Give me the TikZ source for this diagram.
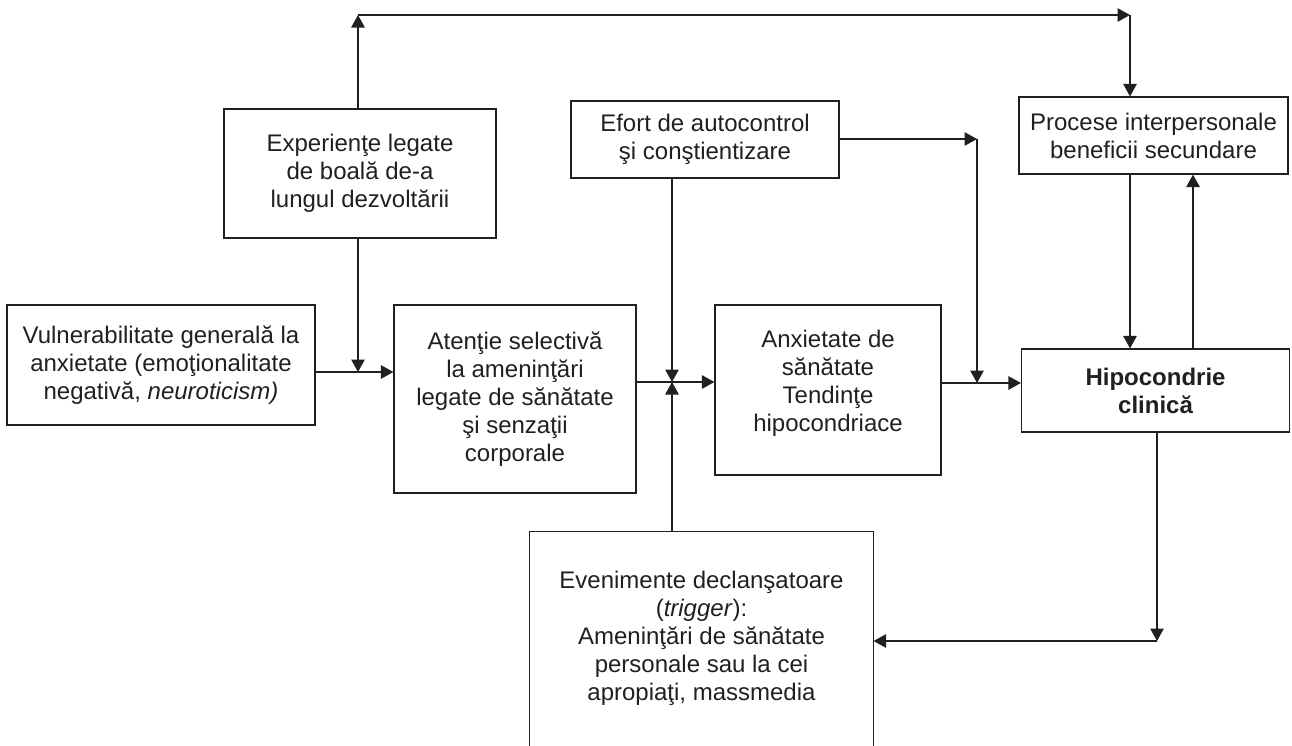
\documentclass[tikz,border=0pt]{standalone}
\usepackage{fontspec}
\setmainfont{Liberation Sans}
\usetikzlibrary{arrows.meta}
\definecolor{ink}{HTML}{231F20}
\begin{document}
\begin{tikzpicture}[x=1pt,y=-1pt,
  box/.style={draw=ink, line width=1.2pt, align=center, inner sep=0pt, text=ink,
    font=\fontsize{24}{28}\selectfont},
  conn/.style={draw=ink, line width=1.2pt},
  tip/.style={-{Triangle[length=12.5pt,width=13.5pt]}}]
\useasboundingbox (0,0) rectangle (1292,745);
\fill[white] (0,0) rectangle (1292,745);

\node[box, minimum width=308, minimum height=120] (vuln) at (161,365)
  {Vulnerabilitate generală la\\anxietate (emoţionalitate\\negativă, \textit{neuroticism)}};
\node[box, minimum width=272, minimum height=129] (exp) at (360,173.5)
  {Experienţe legate\\de boală de-a\\lungul dezvoltării};
\node[box, minimum width=242, minimum height=188] (aten) at (515,399)
  {Atenţie selectivă\\la ameninţări\\legate de sănătate\\şi senzaţii\\corporale};
\node[box, minimum width=268, minimum height=77] (efort) at (705,139.5)
  {Efort de autocontrol\\şi conştientizare};
\node[box, minimum width=226, minimum height=170,
  label={[align=center, text=ink, font=\fontsize{24}{28}\selectfont, yshift=7pt]center:Anxietate de\\sănătate\\Tendinţe\\hipocondriace}] (anx) at (828,390) {};
\node[box, minimum width=269, minimum height=77] (proc) at (1153.5,135.5)
  {Procese interpersonale\\beneficii secundare};
\node[box, minimum width=268, minimum height=83, font=\fontsize{24}{28}\selectfont\bfseries] (hipo) at (1155.5,390.5)
  {Hipocondrie\\clinică};
\node[box, draw=none, minimum width=343, minimum height=213] (even) at (701.5,638.5)
  {Evenimente declanşatoare\\(\textit{trigger}):\\Ameninţări de sănătate\\personale sau la cei\\apropiaţi, massmedia};
\draw[conn] (even.south west) -- (even.north west) -- (even.north east) -- (even.south east);

\coordinate (tl) at (358,15);
\coordinate (tr) at (1130,15);
\draw[conn,tip] (exp.north -| tl) -- (tl);
\draw[conn,tip] (tl) -- (tr);
\draw[conn,tip] (tr) -- (tr |- proc.north);

\coordinate (j1) at (358,372);
\draw[conn,tip] (exp.south -| j1) -- (j1);
\draw[conn,tip] (vuln.east |- j1) -- (aten.west |- j1);

\coordinate (j2) at (672,382);
\draw[conn,tip] (aten.east |- j2) -- (anx.west |- j2);
\draw[conn,tip] (efort.south -| j2) -- (j2);
\draw[conn,tip] (even.north -| j2) -- (j2);

\coordinate (j3) at (977,139);
\coordinate (j4) at (977,383);
\draw[conn,tip] (efort.east |- j3) -- (j3);
\draw[conn,tip] (j3) -- (j4);
\draw[conn,tip] (anx.east |- j4) -- (hipo.west |- j4);

\coordinate (up) at (1193,0);
\draw[conn,tip] (proc.south -| tr) -- (hipo.north -| tr);
\draw[conn,tip] (hipo.north -| up) -- (proc.south -| up);

\coordinate (j5) at (1157,641);
\draw[conn,tip] (hipo.south -| j5) -- (j5);
\draw[conn,tip] (j5) -- (even.east |- j5);
\end{tikzpicture}
\end{document}
